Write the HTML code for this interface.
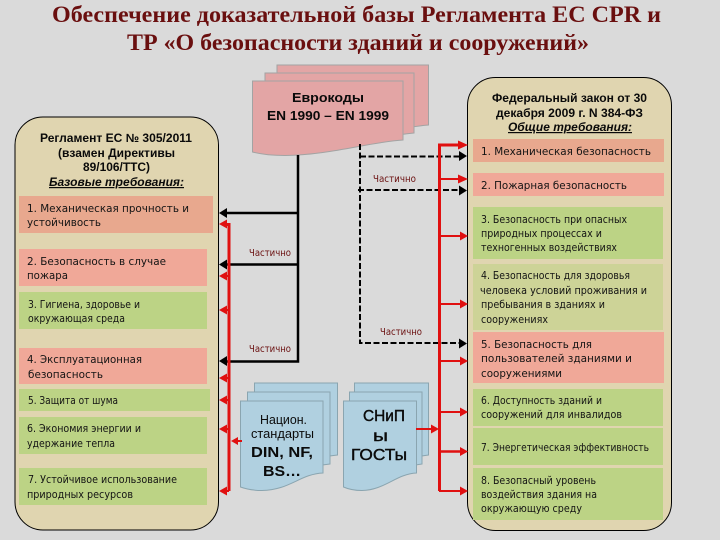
<!DOCTYPE html>
<html><head><meta charset="utf-8">
<style>
html,body{margin:0;padding:0;background:#dadada}
svg{display:block}
.s{font-family:"DejaVu Sans",sans-serif;font-size:11px;fill:#141414}
.h{font-family:"Liberation Sans",sans-serif;font-size:12px;font-weight:bold;fill:#0a0a0a}
.t{font-family:"Liberation Serif",serif;font-size:23px;font-weight:bold;fill:#6a0f0f}
.c{font-family:"DejaVu Sans",sans-serif;font-size:9.5px;fill:#6a0f0f}
.l{font-family:"Liberation Sans",sans-serif;fill:#0a0a0a}
</style></head><body>
<svg xmlns="http://www.w3.org/2000/svg" width="720" height="540" viewBox="0 0 720 540">
<rect width="720" height="540" fill="#dadada"/>
<text class="t" x="52" y="22" textLength="609" lengthAdjust="spacingAndGlyphs">Обеспечение доказательной базы Регламента ЕС CPR и</text>
<text class="t" x="127" y="50" textLength="462" lengthAdjust="spacingAndGlyphs">ТР «О безопасности зданий и сооружений»</text>

<!-- panels -->
<rect x="15" y="117" width="203.500" height="413" rx="28" ry="28" fill="#e0d5b0" stroke="#000"/>
<rect x="467.500" y="77.500" width="204" height="453" rx="28" ry="28" fill="#e0d5b0" stroke="#000"/>

<!-- left boxes -->
<rect x="19" y="196" width="194" height="37" fill="#e8a88e"/>
<rect x="19" y="249" width="188" height="37" fill="#f0a898"/>
<rect x="19" y="292" width="188" height="37" fill="#bcd385"/>
<rect x="19" y="348" width="188" height="36" fill="#f0a898"/>
<rect x="19" y="389" width="191" height="22" fill="#bcd385"/>
<rect x="19" y="417" width="188" height="37" fill="#bcd385"/>
<rect x="19" y="468" width="188" height="37" fill="#bcd385"/>

<!-- right boxes -->
<rect x="473" y="139" width="191" height="23" fill="#e8a88e"/>
<rect x="473" y="173" width="191" height="23" fill="#f0a898"/>
<rect x="473" y="207" width="190" height="52" fill="#bcd385"/>
<rect x="473" y="264" width="190" height="66" fill="#cdd397"/>
<rect x="473" y="332" width="191" height="51" fill="#f0a898"/>
<rect x="473" y="389" width="190" height="37" fill="#bcd385"/>
<rect x="473" y="428" width="190" height="37" fill="#bcd385"/>
<rect x="473" y="468" width="190" height="52" fill="#bcd385"/>

<!-- Eurocode documents -->
<g fill="#e3a5a5" stroke="#a3a3a3">
<path d="M277 65H428.500V125C405 127 395 131 370 134H277Z"/>
<path d="M265 73H414V133C390 135 380 139 355 142H265Z"/>
<path d="M252.500 81H403V140C370 142 330 155 285 155.500C270 155.500 260 154 252.500 152Z"/>
</g>

<!-- blue documents -->
<g fill="#b0d0e0" stroke="#8aa5b0">
<path d="M254.500 383H337.500V455C325 456 315 459 305 463H254.500Z"/>
<path d="M247.500 392H330V464C318 465 308 468 298 472H247.500Z"/>
<path d="M240.500 401H323V473C300 474 290 490 262 490.500C252 490.500 246 489 240.500 487Z"/>
<path d="M354.500 383H428.500V455C418 456 410 459 400 463H354.500Z"/>
<path d="M349.500 392H422V464C412 465 404 468 394 472H349.500Z"/>
<path d="M343.500 401H416.500V473C396 474 385 490 362 490.500C353 490.500 348 489 343.500 487Z"/>
</g>

<!-- black solid connectors -->
<g stroke="#000" stroke-width="2.500" fill="none">
<path d="M298 155V361.500H226"/>
<path d="M298 213H226"/>
<path d="M298 264.500H226"/>
</g>
<g fill="#000">
<polygon points="219,213 227,208 227,218"/>
<polygon points="219,264.500 227,259.500 227,269.500"/>
<polygon points="219,361 227,356 227,366"/>
</g>

<!-- black dashed connectors -->
<g stroke="#000" stroke-width="2" fill="none" stroke-dasharray="6 2.500">
<path d="M360 144V343H462"/>
<path d="M360 156.500H462"/>
<path d="M358 190H462"/>
</g>
<g fill="#000">
<polygon points="467,156 459,151 459,161"/>
<polygon points="467,190.500 459,185.500 459,195.500"/>
<polygon points="467,343.500 459,338.500 459,348.500"/>
</g>

<!-- red left bus -->
<g stroke="#e01010" fill="none">
<path d="M229 491V224.500H224" stroke-width="3"/>
<g stroke-width="2">
<path d="M229 276H224M229 310H224M229 378H224M229 400H224M229 429H224M229 491H224"/>
<path d="M242 441H234"/>
</g>
</g>
<g fill="#e01010">
<polygon points="219,224 227,219.500 227,228.500"/>
<polygon points="219,276 227,271.500 227,280.500"/>
<polygon points="219,310 227,305.500 227,314.500"/>
<polygon points="219,378 227,373.500 227,382.500"/>
<polygon points="219,400 227,395.500 227,404.500"/>
<polygon points="219,429 227,424.500 227,433.500"/>
<polygon points="219,491 227,486.500 227,495.500"/>
<polygon points="231,441 238,437 238,445"/>
</g>

<!-- red right bus -->
<g stroke="#e01010" fill="none">
<path d="M439.500 491V145H462" stroke-width="3"/>
<path d="M439 179H462M439 236H462M439 304H462M439 361H462M439 412H462M439 491H462" stroke-width="2"/>
<path d="M439 451.500H462" stroke-width="2.500"/>
<path d="M416 429H434" stroke-width="2"/>
</g>
<g fill="#e01010">
<polygon points="468,145 458,140.500 458,149.500"/>
<polygon points="468,179 458,174.500 458,183.500"/>
<polygon points="468,236 460,231.500 460,240.500"/>
<polygon points="468,304 460,299.500 460,308.500"/>
<polygon points="468,361 460,356.500 460,365.500"/>
<polygon points="468,412 460,407.500 460,416.500"/>
<polygon points="468,451.500 460,447 460,456"/>
<polygon points="468,491 460,486.500 460,495.500"/>
<polygon points="439,429 431,424.500 431,433.500"/>
</g>

<!-- connector labels -->
<text class="c" x="249" y="256" textLength="42" lengthAdjust="spacingAndGlyphs">Частично</text>
<text class="c" x="373" y="182" textLength="43" lengthAdjust="spacingAndGlyphs">Частично</text>
<text class="c" x="380" y="335" textLength="42" lengthAdjust="spacingAndGlyphs">Частично</text>
<text class="c" x="249" y="352" textLength="42" lengthAdjust="spacingAndGlyphs">Частично</text>

<!-- Left header -->
<text class="h" x="40" y="142" textLength="152" lengthAdjust="spacingAndGlyphs">Регламент ЕС № 305/2011</text>
<text class="h" x="58" y="157" textLength="117" lengthAdjust="spacingAndGlyphs">(взамен Директивы</text>
<text class="h" x="83" y="171" textLength="67" lengthAdjust="spacingAndGlyphs">89/106/ТТС)</text>
<text class="h" x="49" y="186" textLength="135" lengthAdjust="spacingAndGlyphs" font-style="italic" text-decoration="underline">Базовые требования:</text>

<!-- Left items -->
<text class="s" x="27" y="212" textLength="162" lengthAdjust="spacingAndGlyphs">1. Механическая прочность и</text>
<text class="s" x="27" y="226" textLength="74" lengthAdjust="spacingAndGlyphs">устойчивость</text>
<text class="s" x="27" y="265" textLength="139" lengthAdjust="spacingAndGlyphs">2. Безопасность в случае</text>
<text class="s" x="27" y="279" textLength="41" lengthAdjust="spacingAndGlyphs">пожара</text>
<text class="s" x="28" y="308" textLength="112" lengthAdjust="spacingAndGlyphs">3. Гигиена, здоровье и</text>
<text class="s" x="28" y="322" textLength="97" lengthAdjust="spacingAndGlyphs">окружающая среда</text>
<text class="s" x="27" y="363" textLength="115" lengthAdjust="spacingAndGlyphs">4. Эксплуатационная</text>
<text class="s" x="28" y="378" textLength="75" lengthAdjust="spacingAndGlyphs">безопасность</text>
<text class="s" x="28" y="404" textLength="90" lengthAdjust="spacingAndGlyphs">5. Защита от шума</text>
<text class="s" x="27" y="432" textLength="114" lengthAdjust="spacingAndGlyphs">6. Экономия энергии и</text>
<text class="s" x="27" y="447" textLength="88" lengthAdjust="spacingAndGlyphs">удержание тепла</text>
<text class="s" x="28" y="483" textLength="149" lengthAdjust="spacingAndGlyphs">7. Устойчивое использование</text>
<text class="s" x="27" y="498" textLength="106" lengthAdjust="spacingAndGlyphs">природных ресурсов</text>

<!-- Right header -->
<text class="h" x="492" y="102" textLength="155" lengthAdjust="spacingAndGlyphs">Федеральный закон от 30</text>
<text class="h" x="496" y="117" textLength="147" lengthAdjust="spacingAndGlyphs">декабря 2009 г. N 384-ФЗ</text>
<text class="h" x="508" y="131" textLength="124" lengthAdjust="spacingAndGlyphs" font-style="italic" text-decoration="underline">Общие требования:</text>

<!-- Right items -->
<text class="s" x="481" y="155" textLength="170" lengthAdjust="spacingAndGlyphs">1. Механическая безопасность</text>
<text class="s" x="481" y="189" textLength="146" lengthAdjust="spacingAndGlyphs">2. Пожарная безопасность</text>
<text class="s" x="481" y="223" textLength="146" lengthAdjust="spacingAndGlyphs">3. Безопасность при опасных</text>
<text class="s" x="481" y="237" textLength="121" lengthAdjust="spacingAndGlyphs">природных процессах и</text>
<text class="s" x="481" y="251" textLength="136" lengthAdjust="spacingAndGlyphs">техногенных воздействиях</text>
<text class="s" x="481" y="279" textLength="149" lengthAdjust="spacingAndGlyphs">4. Безопасность для здоровья</text>
<text class="s" x="480" y="294" textLength="167" lengthAdjust="spacingAndGlyphs">человека условий проживания и</text>
<text class="s" x="481" y="308" textLength="124" lengthAdjust="spacingAndGlyphs">пребывания в зданиях и</text>
<text class="s" x="481" y="323" textLength="67" lengthAdjust="spacingAndGlyphs">сооружениях</text>
<text class="s" x="481" y="348" textLength="111" lengthAdjust="spacingAndGlyphs">5. Безопасность для</text>
<text class="s" x="481" y="362" textLength="151" lengthAdjust="spacingAndGlyphs">пользователей зданиями и</text>
<text class="s" x="481" y="377" textLength="81" lengthAdjust="spacingAndGlyphs">сооружениями</text>
<text class="s" x="481" y="404" textLength="121" lengthAdjust="spacingAndGlyphs">6. Доступность зданий и</text>
<text class="s" x="481" y="418" textLength="141" lengthAdjust="spacingAndGlyphs">сооружений для инвалидов</text>
<text class="s" x="481" y="451" textLength="168" lengthAdjust="spacingAndGlyphs">7. Энергетическая эффективность</text>
<text class="s" x="481" y="484" textLength="115" lengthAdjust="spacingAndGlyphs">8. Безопасный уровень</text>
<text class="s" x="481" y="498" textLength="116" lengthAdjust="spacingAndGlyphs">воздействия здания на</text>
<text class="s" x="481" y="512" textLength="101" lengthAdjust="spacingAndGlyphs">окружающую среду</text>

<!-- Eurocode text -->
<text class="l" x="292" y="102" font-size="13" font-weight="bold" textLength="72" lengthAdjust="spacingAndGlyphs">Еврокоды</text>
<text class="l" x="267" y="120" font-size="13" font-weight="bold" textLength="122" lengthAdjust="spacingAndGlyphs">EN 1990 – EN 1999</text>

<!-- National standards text -->
<text class="l" x="260" y="424" font-size="13" textLength="47" lengthAdjust="spacingAndGlyphs">Национ.</text>
<text class="l" x="251" y="438" font-size="13" textLength="63" lengthAdjust="spacingAndGlyphs">стандарты</text>
<text class="l" x="251" y="457" font-size="15" font-weight="bold" textLength="62" lengthAdjust="spacingAndGlyphs">DIN, NF,</text>
<text class="l" x="263" y="476" font-size="15" font-weight="bold" textLength="38" lengthAdjust="spacingAndGlyphs">BS…</text>

<!-- SNiP text -->
<text class="l" x="363" y="421" font-size="15.500" stroke="#0a0a0a" stroke-width="0.400" textLength="42" lengthAdjust="spacingAndGlyphs">СНиП</text>
<text class="l" x="373" y="441" font-size="15.500" stroke="#0a0a0a" stroke-width="0.400" textLength="15" lengthAdjust="spacingAndGlyphs">ы</text>
<text class="l" x="351" y="460" font-size="15.500" stroke="#0a0a0a" stroke-width="0.400" textLength="56" lengthAdjust="spacingAndGlyphs">ГОСТы</text>
</svg>
</body></html>
